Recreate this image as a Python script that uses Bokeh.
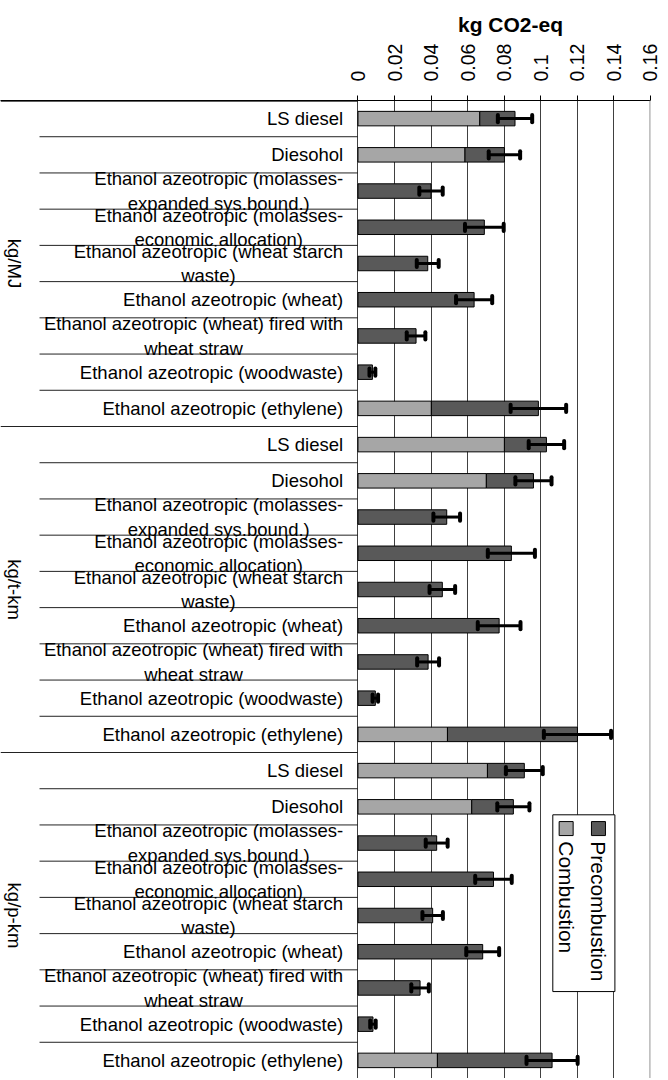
import math
from bokeh.plotting import figure
from bokeh.models import Range1d, FixedTicker, NumeralTickFormatter, ColumnDataSource, Span
from bokeh.embed import file_html
from bokeh.resources import INLINE
from bokeh.core.properties import value

# ---------------- data ----------------
groups = ["kg/MJ", "kg/t-km", "kg/p-km"]
categories = [
    "LS diesel",
    "Diesohol",
    "Ethanol azeotropic (molasses-\nexpanded sys.bound.)",
    "Ethanol azeotropic (molasses-\neconomic allocation)",
    "Ethanol azeotropic (wheat starch\nwaste)",
    "Ethanol azeotropic (wheat)",
    "Ethanol azeotropic (wheat) fired with\nwheat straw",
    "Ethanol azeotropic (woodwaste)",
    "Ethanol azeotropic (ethylene)",
]
series_names = ["Precombustion", "Combustion"]

combustion_mj = [0.0667, 0.0586, 0, 0, 0, 0, 0, 0, 0.0402]
precombustion_mj = [0.0193, 0.0216, 0.0400, 0.0692, 0.0382, 0.0636, 0.0318, 0.0079, 0.0586]
error_mj = [0.0094, 0.0086, 0.0064, 0.0106, 0.0060, 0.0099, 0.0051, 0.0016, 0.0152]

combustion_tkm = [0.0802, 0.0703, 0, 0, 0, 0, 0, 0, 0.0490]
precombustion_tkm = [0.0230, 0.0258, 0.0486, 0.0840, 0.0462, 0.0773, 0.0384, 0.0095, 0.0712]
error_tkm = [0.0097, 0.0099, 0.0073, 0.0129, 0.0070, 0.0117, 0.0060, 0.0015, 0.0184]

combustion_pkm = [0.0709, 0.0623, 0, 0, 0, 0, 0, 0, 0.0435]
precombustion_pkm = [0.0202, 0.0228, 0.0431, 0.0742, 0.0409, 0.0683, 0.0340, 0.0082, 0.0628]
error_pkm = [0.0101, 0.0088, 0.0060, 0.0100, 0.0056, 0.0090, 0.0048, 0.0015, 0.0140]

tick_values = [0, 0.02, 0.04, 0.06, 0.08, 0.1, 0.12, 0.14, 0.16]
tick_labels = ["0", "0.02", "0.04", "0.06", "0.08", "0.1", "0.12", "0.14", "0.16"]
axis_title = "kg CO2-eq"

# ---------------- layout / styling ----------------
FONT = "Liberation Sans"
LIGHT = "#a6a6a6"
DARK = "#595959"
LABEL_PX = 18.5
PX_PER_UNIT = 1825.0      # screen pixels per kg CO2-eq
LEFT_PX = 357.3           # width of the label area left of the zero line
X_END = 0.1602
HEIGHT = 1078
TOP = 100
BORDER_R = 11

ARIAL = {" ": 278, "(": 333, ")": 333, "-": 333, ".": 278, "a": 556, "b": 556, "c": 500,
         "d": 556, "e": 556, "f": 278, "g": 556, "h": 556, "i": 222, "j": 222, "k": 500,
         "l": 222, "m": 833, "n": 556, "o": 556, "p": 556, "q": 556, "r": 333, "s": 500,
         "t": 278, "u": 556, "v": 500, "w": 722, "x": 500, "y": 500, "z": 500, "E": 667,
         "L": 556, "S": 667, "D": 722, "C": 722, "O": 778, "2": 556, "P": 667}


def text_width(s, px):
    return max(sum(ARIAL.get(ch, 556) for ch in line) for line in s.split("\n")) * px / 1000.0


def px_to_x(px):
    return (px - LEFT_PX) / PX_PER_UNIT


comb = combustion_mj + combustion_tkm + combustion_pkm
pre = precombustion_mj + precombustion_tkm + precombustion_pkm
err = error_mj + error_tkm + error_pkm
n_rows = len(groups) * len(categories)
ys = [i + 0.5 for i in range(n_rows)]
tot = [c + q for c, q in zip(comb, pre)]
lo = [t - e for t, e in zip(tot, err)]
hi = [t + e for t, e in zip(tot, err)]

x_start = px_to_x(0)
frame_w = LEFT_PX + X_END * PX_PER_UNIT
width = int(round(frame_w)) + BORDER_R

p = figure(width=width, height=HEIGHT, x_range=Range1d(x_start, X_END),
           y_range=Range1d(n_rows, 0),
           output_backend="svg", toolbar_location=None,
           x_axis_location="above", y_axis_location=None,
           min_border_left=0, min_border_right=BORDER_R, min_border_top=TOP,
           min_border_bottom=0, title=axis_title)

# title centred over the value scale (0 .. 0.16)
title_px = 21
p.title.align = "left"
p.title.offset = LEFT_PX + (tick_values[-1] / 2) * PX_PER_UNIT - text_width(axis_title, title_px) / 2 + 5
p.title.text_font = FONT
p.title.text_font_size = f"{title_px}px"
p.title.text_font_style = "bold"
p.title.text_color = "black"
p.outline_line_color = None
p.ygrid.visible = False

p.xaxis.ticker = FixedTicker(ticks=tick_values)
p.xgrid.ticker = FixedTicker(ticks=tick_values[:-1])
p.xgrid.grid_line_color = "#404040"
p.xgrid.grid_line_width = 1
p.add_layout(Span(location=tick_values[-1], dimension="height",
                  line_color="#9a9a9a", line_width=1.5))
ax = p.xaxis[0]
ax.formatter = NumeralTickFormatter(format="0.[00]")
ax.major_label_overrides = {v: l for v, l in zip(tick_values, tick_labels)}
ax.major_label_orientation = math.pi / 2
ax.major_label_text_font = FONT
ax.major_label_text_font_size = "19.5px"
ax.major_label_text_color = "black"
ax.axis_line_color = "black"
ax.major_tick_line_color = "black"
ax.major_tick_out = 5
ax.major_tick_in = 0
ax.minor_tick_line_color = None
ax.major_label_standoff = 14

# ---------------- bars ----------------
cs = ColumnDataSource(dict(y=[y for y, c in zip(ys, comb) if c > 0],
                           right=[c for c in comb if c > 0]))
p.hbar(y="y", left=0, right="right", height=0.4, source=cs,
       fill_color=LIGHT, line_color="black", line_width=1)
p.hbar(y=ys, left=comb, right=tot, height=0.4,
       fill_color=DARK, line_color="black", line_width=1)
p.segment(x0=lo, y0=ys, x1=hi, y1=ys, line_color="black", line_width=3)
for xs in (lo, hi):
    p.segment(x0=xs, y0=[y - 0.1 for y in ys], x1=xs, y1=[y + 0.1 for y in ys],
              line_color="black", line_width=4, line_cap="round")

# ---------------- legend (rotated, drawn by hand) ----------------
p.quad(left=0.1067, right=0.1407, top=19.72, bottom=24.6,
       fill_color="white", line_color="black", line_width=1)
leg_x = [0.1317, 0.1140]
p.rect(x=leg_x, y=[20.1, 20.1], width=14, height=14, width_units="screen",
       height_units="screen", fill_color=[DARK, LIGHT], line_color="black")
p.text(x=leg_x, y=[20.45, 20.45], text=series_names, angle=-math.pi / 2,
       text_align="left", text_baseline="middle", text_font=value(FONT),
       text_font_size="21px", text_color="black")

# ---------------- category axis (two levels, drawn by hand) ----------------
nc = len(categories)
group_b = [max(g * nc, 0.02) for g in range(len(groups) + 1)]
cat_b = [i for i in range(n_rows) if i % nc != 0]
p.segment(x0=x_start, y0=group_b, x1=0, y1=group_b, line_color="#222222", line_width=1)
p.segment(x0=px_to_x(39), y0=cat_b, x1=0, y1=cat_b, line_color="#222222", line_width=1)

RIGHT_EDGE = 342.5
labels = categories * len(groups)
lx = [px_to_x(RIGHT_EDGE - text_width(t, LABEL_PX) / 2) for t in labels]
p.text(x=lx, y=ys, text=labels, text_align="center", text_baseline="middle",
       text_font=value(FONT), text_font_size=f"{LABEL_PX}px", text_color="black",
       text_line_height=1.15)
p.text(x=px_to_x(13.5), y=[(g + 0.5) * nc for g in range(len(groups))], text=groups,
       angle=-math.pi / 2, text_align="center", text_baseline="middle",
       text_font=value(FONT), text_font_size="18.5px", text_color="black")

open("out.html", "w").write(file_html(p, INLINE))
